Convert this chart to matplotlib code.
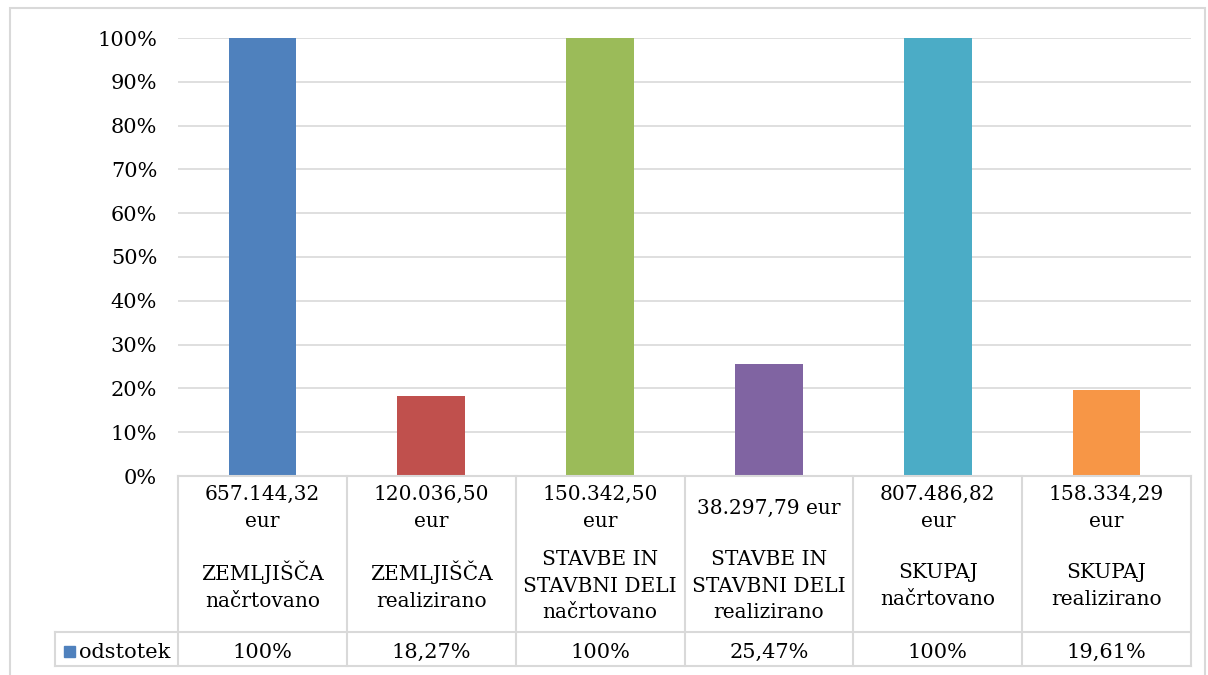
import numpy as np
import matplotlib.pyplot as plt
from matplotlib.patches import Rectangle
from matplotlib.lines import Line2D
from matplotlib.ticker import FuncFormatter

# Data
amounts = ["657.144,32\neur", "120.036,50\neur", "150.342,50\neur",
           "38.297,79 eur", "807.486,82\neur", "158.334,29\neur"]
names = ["ZEMLJIŠČA\nnačrtovano", "ZEMLJIŠČA\nrealizirano",
         "STAVBE IN\nSTAVBNI DELI\nnačrtovano", "STAVBE IN\nSTAVBNI DELI\nrealizirano",
         "SKUPAJ\nnačrtovano", "SKUPAJ\nrealizirano"]
values = [100, 18.27, 100, 25.47, 100, 19.61]
value_labels = ["100%", "18,27%", "100%", "25,47%", "100%", "19,61%"]
series_name = "odstotek"
colors = ["#4F81BD", "#C0504D", "#9BBB59", "#8064A2", "#4BACC6", "#F79646"]

W, H = 1208, 675
GRID = "#D9D9D9"
plt.rcParams['font.family'] = ['DejaVu Serif']

fig = plt.figure(figsize=(W / 100, H / 100), dpi=100)

def fx(px):
    return px / W

def fy(py):
    return 1 - py / H

# plot area in pixels
x0, x1 = 178, 1191
ytop, ybot = 38, 476
ax = fig.add_axes([fx(x0), fy(ybot), fx(x1) - fx(x0), fy(ytop) - fy(ybot)])

n = len(values)
pos = np.arange(n)
ax.bar(pos, values, width=0.4, color=colors, zorder=3)
ax.set_xlim(-0.5, n - 0.5)
ax.set_ylim(0, 100)
ax.set_yticks(np.arange(0, 101, 10))
ax.yaxis.set_major_formatter(FuncFormatter(lambda v, p: "{:.0f}%".format(v)))
ax.tick_params(axis='y', length=0, labelsize=15, pad=15, colors="#000000")
ax.set_xticks([])
ax.grid(axis='y', color=GRID, linewidth=1.2, zorder=0)
for s in ax.spines.values():
    s.set_visible(False)

# outer chart border
fig.patches.append(Rectangle((fx(10), fy(700)), fx(1205) - fx(10), fy(8) - fy(700),
                             transform=fig.transFigure, fill=False,
                             edgecolor=GRID, linewidth=1.5))

# data table
col_w = (x1 - x0) / n
row1_bot, row2_bot = 632, 666
leg_left = 55

def hline(y, xa, xb):
    fig.add_artist(Line2D([fx(xa), fx(xb)], [fy(y), fy(y)], color=GRID, linewidth=1.5))

def vline(x, ya, yb):
    fig.add_artist(Line2D([fx(x), fx(x)], [fy(ya), fy(yb)], color=GRID, linewidth=1.5))

hline(ybot, x0, x1)
hline(row1_bot, leg_left, x1)
hline(row2_bot, leg_left, x1)
vline(leg_left, row1_bot, row2_bot)
for i in range(n + 1):
    vline(x0 + i * col_w, ybot, row2_bot)

for i in range(n):
    cx = fx(x0 + (i + 0.5) * col_w)
    fig.text(cx, fy(508), amounts[i], ha='center', va='center', fontsize=14.5,
             linespacing=1.5)
    fig.text(cx, fy(586), names[i], ha='center', va='center', fontsize=14.5,
             linespacing=1.5)
    fig.text(cx, fy(652), value_labels[i], ha='center', va='center', fontsize=15)

# legend key
fig.patches.append(Rectangle((fx(64), fy(657)), fx(75) - fx(64), fy(646) - fy(657),
                             transform=fig.transFigure, color=colors[0]))
fig.text(fx(79), fy(652), series_name, ha='left', va='center', fontsize=15)

fig.savefig("out.png", dpi=100)
